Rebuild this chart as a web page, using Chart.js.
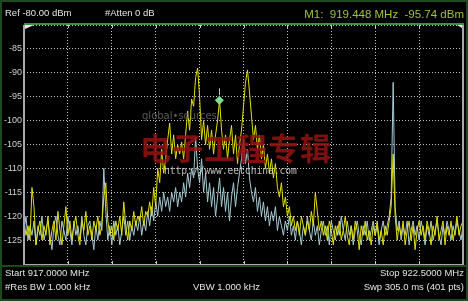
<!DOCTYPE html>
<html><head><meta charset="utf-8">
<script src="https://cdn.jsdelivr.net/npm/chart.js@4/dist/chart.umd.min.js"></script>
<style>
html,body{margin:0;padding:0;background:#000;}
#wrap{position:relative;width:468px;height:301px;overflow:hidden;background:#000;font-family:"Liberation Sans",Arial,sans-serif;}
canvas{position:absolute;left:0;top:0;}
.t{position:absolute;white-space:nowrap;color:#e4e4e4;font-size:9.5px;line-height:1;}
.frame{position:absolute;left:0;top:0;width:464px;height:297px;border:2px solid #1d4a1d;}
.hline{position:absolute;left:2px;width:464px;height:2px;background:#1d4a1d;top:265px;}
.wm{position:absolute;white-space:nowrap;pointer-events:none;}
</style></head>
<body><div id="wrap">
<canvas id="c" width="468" height="301"></canvas>
<div class="frame"></div>
<div class="hline"></div>
<div class="t" style="left:5px;top:8px;">Ref -80.00 dBm</div>
<div class="t" style="left:105px;top:8px;">#Atten 0 dB</div>
<div class="t" style="right:4px;top:9px;color:#9ec43e;font-size:11.5px;">M1:&nbsp; 919.448 MHz&nbsp; -95.74 dBm</div>
<div class="t" style="left:5px;top:268px;">Start 917.0000 MHz</div>
<div class="t" style="left:5px;top:282px;">#Res BW 1.000 kHz</div>
<div class="t" style="left:193px;top:282px;">VBW 1.000 kHz</div>
<div class="t" style="right:4px;top:268px;">Stop 922.5000 MHz</div>
<div class="t" style="right:4px;top:282px;">Swp 305.0 ms (401 pts)</div>
<div class="wm" style="left:142px;top:110px;color:#5a5a5a;font-size:10px;font-family:'DejaVu Sans',sans-serif;">global•sources</div>
<div class="wm" style="left:140px;top:124px;color:rgba(150,18,18,0.85);font-size:31px;font-weight:bold;font-family:'Noto Sans CJK SC',sans-serif;letter-spacing:1px;">电子工程专辑</div>
<div class="wm" style="left:164px;top:165px;color:rgba(225,225,225,0.8);font-size:9.6px;font-family:'DejaVu Sans Mono',monospace;">http://www.eetchina.com</div>
</div>
<script>
const START_MHZ = 917.0;
const STOP_MHZ = 922.5;
const STEP_MHZ = 0.025;
const Y_MIN = -130, Y_MAX = -80, Y_STEP = 5;
const X_GRID = [917.0, 917.55, 918.1, 918.65, 919.2, 919.75, 920.3, 920.85, 921.4, 921.95, 922.5];
const Y_TICK_LABELS = [-85, -90, -95, -100, -105, -110, -115, -120, -125];
const MARKER = {freq: 919.448, level: -95.74};

const traceYellow = [
-121,-124,-122,-125,-114,-118,-126,-123,-121,-125,
-122,-124,-120,-126,-123,-121,-125,-119,-123,-126,
-122,-118,-124,-121,-125,-122,-120,-124,-126,-121,
-123,-119,-124,-122,-125,-121,-123,-120,-124,-122,
-116,-113,-121,-124,-122,-125,-121,-123,-120,-124,
-117,-122,-125,-121,-123,-119,-122,-120,-121,-118,
-122,-119,-120,-117,-120,-114,-118,-110,-113,-106,
-111,-108,-104,-100.5,-107,-103,-108,-105,-107,-104.5,
-108,-103,-98,-102,-95.5,-97,-91,-89,-95,-104,
-100,-105,-101,-106,-102,-107,-103,-100,-95.7,-102,
-106,-103,-108,-104,-101,-107,-103,-109,-105,-102,
-97,-92,-89.4,-94,-99,-104,-101,-106,-103,-108,
-105,-110,-107,-111,-108,-112,-109,-114,-116,-113,
-118,-116,-120,-118,-122,-120,-123,-121,-124,-120,
-122,-124,-121,-123,-119,-122,-115,-119,-123,-121,
-124,-122,-125,-121,-123,-126,-122,-124,-121,-125,
-123,-120,-124,-126,-122,-125,-121,-123,-127,-122,
-124,-121,-125,-123,-126,-122,-124,-121,-125,-123,
-126,-122,-124,-121,-118,-107,-120,-125,-122,-124,
-121,-126,-123,-121,-125,-122,-127,-123,-121,-124,
-122,-125,-121,-123,-126,-122,-124,-120,-125,-123,
-121,-126,-122,-124,-121,-125,-123,-120,-124,-122,
-121];

const traceBlue = [
-123,-120,-125,-122,-124,-121,-126,-122,-124,-120,
-125,-123,-121,-124,-127,-122,-120,-124,-126,-121,
-123,-125,-120,-123,-126,-121,-124,-122,-125,-120,
-124,-126,-122,-121,-124,-127,-122,-125,-121,-123,
-110,-119,-125,-122,-126,-121,-124,-122,-126,-123,
-120,-124,-121,-125,-122,-124,-121,-123,-120,-124,
-121,-123,-119,-122,-118,-121,-117,-120,-116,-119,
-115,-118,-116,-119,-115,-117,-114,-118,-115,-117,
-113,-116,-111,-114,-110,-112,-103.5,-110,-113,-108,
-115,-111,-117,-113,-118,-114,-120,-116,-112,-118,
-114,-119,-115,-121,-116,-113,-118,-114,-111,-108,
-104,-109,-106,-112,-115,-117,-114,-119,-116,-120,
-117,-121,-118,-122,-119,-121,-118,-123,-120,-122,
-124,-121,-123,-120,-124,-122,-125,-121,-123,-126,
-122,-124,-120,-123,-125,-121,-124,-122,-126,-123,
-121,-124,-122,-126,-121,-123,-125,-122,-124,-120,
-123,-125,-121,-124,-122,-126,-123,-121,-124,-126,
-122,-124,-121,-125,-123,-121,-124,-122,-126,-123,
-121,-124,-122,-120,-116,-92,-118,-123,-121,-125,
-122,-124,-121,-126,-123,-121,-124,-122,-125,-121,
-123,-126,-122,-124,-121,-125,-123,-121,-124,-126,
-122,-124,-121,-123,-125,-122,-124,-121,-123,-125,
-122];

const freqs = traceYellow.map((_, i) => +(START_MHZ + i * STEP_MHZ).toFixed(3));
const toPts = arr => arr.map((v, i) => ({x: freqs[i], y: v}));

const framePlugin = {
  id: 'frame',
  afterDraw(chart) {
    const {ctx, chartArea: a, scales: {x}} = chart;
    ctx.save();
    ctx.fillStyle = '#3f8f3f';
    ctx.fillRect(a.left, a.top - 2, a.right - a.left + 1, 2);
    ctx.fillStyle = '#a9a9a9';
    ctx.fillRect(a.left - 1, a.top, 2, a.bottom - a.top + 1);
    ctx.fillRect(a.left - 1, a.bottom, a.right - a.left + 2, 2);
    ctx.fillRect(a.right - 1, a.top, 2, a.bottom - a.top + 1);
    ctx.fillStyle = '#c8c8c8';
    X_GRID.slice(1, -1).forEach(v => {
      const px = Math.round(x.getPixelForValue(v));
      ctx.fillRect(px, a.top, 1, 3);
      ctx.fillRect(px, a.bottom - 3, 1, 3);
    });
    ctx.fillStyle = '#e8e8e8';
    ctx.beginPath(); ctx.moveTo(a.left + 1, a.top); ctx.lineTo(a.left + 10, a.top); ctx.lineTo(a.left + 1, a.top + 4); ctx.fill();
    ctx.beginPath(); ctx.moveTo(a.right - 1, a.top); ctx.lineTo(a.right - 6, a.top); ctx.lineTo(a.right - 1, a.top + 3); ctx.fill();
    const mx = x.getPixelForValue(MARKER.freq), my = chart.scales.y.getPixelForValue(MARKER.level);
    ctx.strokeStyle = '#8fe0a0'; ctx.lineWidth = 1;
    ctx.beginPath(); ctx.moveTo(Math.round(mx) + 0.5, my - 12); ctx.lineTo(Math.round(mx) + 0.5, my - 5); ctx.stroke();
    ctx.restore();
  }
};

new Chart(document.getElementById('c'), {
  type: 'line',
  data: {
    datasets: [
      {label: 'marker', data: [{x: MARKER.freq, y: MARKER.level}], showLine: false, pointStyle: 'rectRot', pointRadius: 4, pointBackgroundColor: '#7de08e', pointBorderColor: '#7de08e', order: 0},
      {label: 'Trace 1', data: toPts(traceYellow), borderColor: '#e2e000', borderWidth: 1, pointRadius: 0, tension: 0, order: 1},
      {label: 'Trace 2', data: toPts(traceBlue), borderColor: '#a6cad4', borderWidth: 1, pointRadius: 0, tension: 0, order: 2}
    ]
  },
  options: {
    responsive: false,
    animation: false,
    events: [],
    layout: {padding: {left: 0, top: 25, right: 1, bottom: 37}},
    plugins: {legend: {display: false}, tooltip: {enabled: false}},
    scales: {
      x: {
        type: 'linear', min: START_MHZ, max: STOP_MHZ,
        afterBuildTicks: s => { s.ticks = X_GRID.map(v => ({value: v})); },
        afterFit: s => { s.height = 0; },
        ticks: {display: false},
        border: {display: false, dash: [1, 2]},
        grid: {color: 'rgba(220,220,220,0.9)', lineWidth: 1, drawTicks: false},
      },
      y: {
        min: Y_MIN, max: Y_MAX,
        afterBuildTicks: s => { s.ticks = [Y_MAX, ...Y_TICK_LABELS, Y_MIN].map(v => ({value: v})); },
        afterFit: s => { s.width = 24; },
        border: {display: false, dash: [1, 2]},
        ticks: {color: '#cfcfcf', padding: 2, font: {family: 'Liberation Sans', size: 9},
          callback: v => (Y_TICK_LABELS.includes(v) ? String(v) : '')},
        grid: {color: 'rgba(220,220,220,0.9)', lineWidth: 1, drawTicks: false}
      }
    }
  },
  plugins: [framePlugin]
});
</script>
</body></html>
